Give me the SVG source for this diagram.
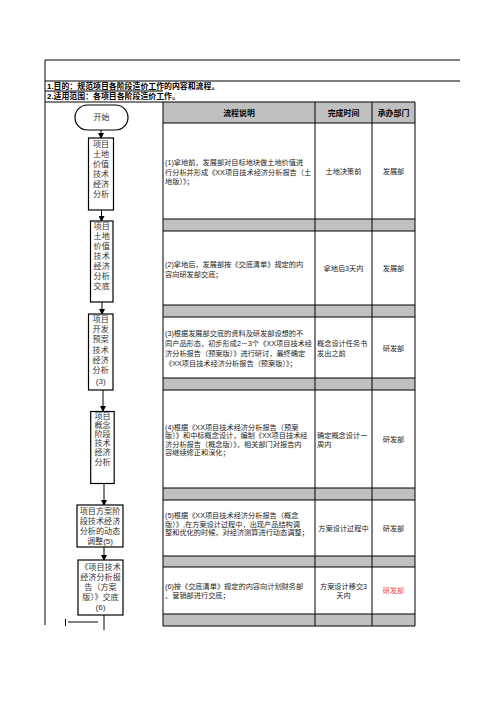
<svg xmlns="http://www.w3.org/2000/svg" width="496" height="702" viewBox="0 0 496 702">
<style>
.ln{stroke:#000;stroke-width:1;fill:none}
.gr{fill:#c0c0c0}
.t{font-family:"Liberation Sans","Noto Sans CJK SC",sans-serif;font-size:7.2px;fill:#222;dominant-baseline:central}
.h{font-family:"Liberation Sans","Noto Sans CJK SC",sans-serif;font-size:7.9px;font-weight:bold;fill:#000;dominant-baseline:central}
.f{font-family:"Liberation Sans","Noto Sans CJK SC",sans-serif;font-size:8.1px;fill:#333;dominant-baseline:central;text-anchor:middle}
.c{text-anchor:middle}
.box{fill:#fff;stroke:#000;stroke-width:1.2}
.red{fill:#ff4040}
</style>
<defs>
<marker id="ah" markerWidth="6" markerHeight="6" refX="5" refY="3" orient="auto" markerUnits="userSpaceOnUse">
<path d="M0,0 L6,3 L0,6 Z" fill="#000"/>
</marker>
</defs>
<rect width="496" height="702" fill="#fff"/>

<g id="frame">
<path class="ln" d="M45,60 H460 M45,81 H460 M45,91 H163 M45,102 H163 M45,60 V625"/>
<text class="h" x="47" y="86">1.目的：规范项目各阶段造价工作的内容和流程。</text>
<text class="h" x="47" y="96.5">2.适用范围：各项目各阶段造价工作。</text>
</g>

<g id="table">
<rect class="gr" x="163" y="102" width="252" height="21"/>
<rect class="gr" x="163" y="219" width="252" height="12"/>
<rect class="gr" x="163" y="305" width="252" height="12"/>
<rect class="gr" x="163" y="378" width="252" height="12"/>
<rect class="gr" x="163" y="488" width="252" height="12"/>
<rect class="gr" x="163" y="556" width="252" height="11"/>
<rect class="gr" x="163" y="614" width="252" height="12"/>
<path class="ln" d="M163,102 H415 M163,123 H415 M163,219 H415 M163,231 H415 M163,305 H415 M163,317 H415 M163,378 H415 M163,390 H415 M163,488 H415 M163,500 H415 M163,556 H415 M163,567 H415 M163,614 H415 M163,626 H415 M163,102 V626 M315,102 V626 M372,102 V626 M415,102 V626"/>
<text class="h c" x="239" y="113">流程说明</text>
<text class="h c" x="343.5" y="113">完成时间</text>
<text class="h c" x="393.5" y="113">承办部门</text>

<text class="t" y="162"><tspan x="165">(1)拿地前，发展部对目标地块做土地价值进</tspan><tspan x="165" dy="9.5">行分析并形成《XX项目技术经济分析报告（土</tspan><tspan x="165" dy="9.5">地版）》；</tspan></text>
<text class="t c" x="343.5" y="171">土地决策前</text>
<text class="t c" x="393.5" y="171">发展部</text>

<text class="t" y="264"><tspan x="165">(2)拿地后，发展部按《交底清单》规定的内</tspan><tspan x="165" dy="9.5">容向研发部交底；</tspan></text>
<text class="t c" x="343.5" y="268">拿地后3天内</text>
<text class="t c" x="393.5" y="268">发展部</text>

<text class="t" y="333"><tspan x="165">(3)根据发展部交底的资料及研发部设想的不</tspan><tspan x="165" dy="10">同产品形态，初步形成2－3个《XX项目技术经</tspan><tspan x="165" dy="10">济分析报告（预案版）》进行研讨，最终确定</tspan><tspan x="165" dy="10">《XX项目技术经济分析报告（预案版）》；</tspan></text>
<text class="t" y="343"><tspan x="317">概念设计任务书</tspan><tspan x="317" dy="10">发出之前</tspan></text>
<text class="t c" x="393.5" y="348">研发部</text>

<text class="t" y="426.5"><tspan x="165">(4)根据《XX项目技术经济分析报告（预案</tspan><tspan x="165" dy="8.5">版）》和中标概念设计，编制《XX项目技术经</tspan><tspan x="165" dy="8.5">济分析报告（概念版）》，相关部门对报告内</tspan><tspan x="165" dy="8.5">容继续修正和深化；</tspan></text>
<text class="t" y="435"><tspan x="317">确定概念设计一</tspan><tspan x="317" dy="8.5">周内</tspan></text>
<text class="t c" x="393.5" y="439">研发部</text>

<text class="t" y="515"><tspan x="165">(5)根据《XX项目技术经济分析报告（概念</tspan><tspan x="165" dy="8.5">版）》,在方案设计过程中，出现产品结构调</tspan><tspan x="165" dy="8.5">整和优化的时候，对经济测算进行动态调整；</tspan></text>
<text class="t c" x="343.5" y="528">方案设计过程中</text>
<text class="t c" x="393.5" y="528">研发部</text>

<text class="t" y="586"><tspan x="165">(6)按《交底清单》规定的内容向计划财务部</tspan><tspan x="165" dy="9">、营销部进行交底；</tspan></text>
<text class="t c" y="586"><tspan x="343.5">方案设计移交3</tspan><tspan x="343.5" dy="9">天内</tspan></text>
<text class="t c red" x="393.5" y="590.5">研发部</text>
</g>

<g id="connectors">
<path class="ln" d="M101,130 V138" marker-end="url(#ah)"/>
<path class="ln" d="M101.5,210 V221" marker-end="url(#ah)"/>
<path class="ln" d="M102,302 V314" marker-end="url(#ah)"/>
<path class="ln" d="M103,390 V411" marker-end="url(#ah)"/>
<path class="ln" d="M104,483 V505" marker-end="url(#ah)"/>
<path class="ln" d="M104,547 V560" marker-end="url(#ah)"/>
<path class="ln" d="M104,615 V630 M68,622 H98 M65.5,619 V626"/>
</g>

<g id="start">
<rect class="box" x="75" y="105" width="53" height="25" rx="12.5"/>
<text class="f" x="101.5" y="117.5">开始</text>
</g>
<g id="n1">
<rect class="box" x="88.5" y="138" width="25" height="72"/>
<text class="f" y="143.5"><tspan x="101">项目</tspan><tspan x="101" dy="10">土地</tspan><tspan x="101" dy="10">价值</tspan><tspan x="101" dy="10">技术</tspan><tspan x="101" dy="10">经济</tspan><tspan x="101" dy="10">分析</tspan></text>
</g>
<g id="n2">
<rect class="box" x="90.5" y="221" width="22.5" height="81"/>
<text class="f" y="225.5"><tspan x="101.7">项目</tspan><tspan x="101.7" dy="10">土地</tspan><tspan x="101.7" dy="10">价值</tspan><tspan x="101.7" dy="10">技术</tspan><tspan x="101.7" dy="10">经济</tspan><tspan x="101.7" dy="10.3">分析</tspan><tspan x="101.7" dy="10.2">交底</tspan></text>
</g>
<g id="n3">
<rect class="box" x="88.5" y="314" width="24.5" height="76"/>
<text class="f" y="318.5"><tspan x="100.7">项目</tspan><tspan x="100.7" dy="10.3">开发</tspan><tspan x="100.7" dy="10.4">预案</tspan><tspan x="100.7" dy="10.4">技术</tspan><tspan x="100.7" dy="10.4">经济</tspan><tspan x="100.7" dy="10.4">分析</tspan><tspan x="100.7" dy="11">(3)</tspan></text>
</g>
<g id="n4">
<rect class="box" x="90.7" y="411.5" width="23.5" height="72"/>
<text class="f" y="416"><tspan x="102.5">项目</tspan><tspan x="102.5" dy="9.1">概念</tspan><tspan x="102.5" dy="9.1">阶段</tspan><tspan x="102.5" dy="9.1">技术</tspan><tspan x="102.5" dy="9.1">经济</tspan><tspan x="102.5" dy="9.1">分析</tspan></text>
</g>
<g id="n5">
<rect class="box" x="77" y="505" width="46" height="42"/>
<text class="f" y="510.5"><tspan x="100">项目方案阶</tspan><tspan x="100" dy="10">段技术经济</tspan><tspan x="100" dy="10">分析的动态</tspan><tspan x="100" dy="10">调整(5)</tspan></text>
</g>
<g id="n6">
<rect class="box" x="78" y="560" width="45" height="55"/>
<text class="f" y="567"><tspan x="100.5">《项目技术</tspan><tspan x="100.5" dy="10">经济分析报</tspan><tspan x="100.5" dy="10">告（方案</tspan><tspan x="100.5" dy="10">版）》交底</tspan><tspan x="100.5" dy="10">(6)</tspan></text>
</g>
</svg>
